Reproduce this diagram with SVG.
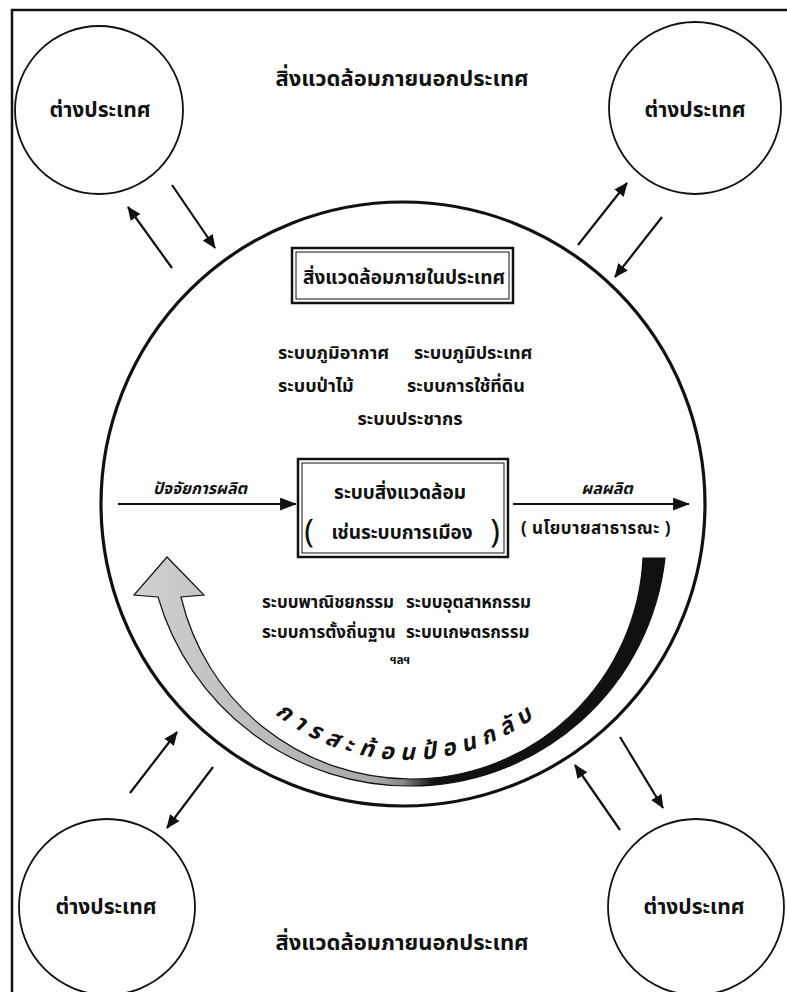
<svg xmlns="http://www.w3.org/2000/svg" width="787" height="992" viewBox="0 0 787 992">
<defs>
<style>
text{font-family:"Noto Sans Thai","Noto Sans Thai UI","Loma","Garuda","Tlwg Typo","Norasi","DejaVu Sans",sans-serif;fill:#111;text-anchor:middle;font-weight:bold}
.node{fill:#fff;stroke:#111;stroke-width:1.8}
.main{fill:#fff;stroke:#111;stroke-width:3.2}
.frame{fill:none;stroke:#111;stroke-width:2.5}
.conn{stroke:#111;stroke-width:2.2;fill:none}
.boxo{fill:#fff;stroke:#111;stroke-width:2.5}
.boxi{fill:none;stroke:#111;stroke-width:1}
.lbl{font-size:18px}
.fn{font-size:21px}
.big{font-size:22px}
.it{font-style:italic}
.st{text-anchor:start}
</style>
<marker id="ah" viewBox="0 0 14 12" refX="13" refY="6" markerWidth="14" markerHeight="12" markerUnits="userSpaceOnUse" orient="auto">
<path d="M0,0 L14,6 L0,12 Z" fill="#111"/>
</marker>
<marker id="ah2" viewBox="0 0 16 12" refX="15" refY="6" markerWidth="17" markerHeight="13" markerUnits="userSpaceOnUse" orient="auto">
<path d="M0,0 L16,6 L0,12 Z" fill="#111"/>
</marker>
<linearGradient id="fb" gradientUnits="userSpaceOnUse" x1="140" y1="0" x2="665" y2="0">
<stop offset="0" stop-color="#d0d0d0"/>
<stop offset="0.45" stop-color="#a8a8a8"/>
<stop offset="0.5" stop-color="#888"/>
<stop offset="0.56" stop-color="#111"/>
<stop offset="1" stop-color="#111"/>
</linearGradient>
<path id="fbtext" d="M207.8 620.5 A212 212 0 0 0 606.2 620.5"/>
</defs>
<rect width="787" height="992" fill="#fff"/>
<path class="frame" d="M12 992 V10 H787"/>

<text class="big" x="402" y="86">สิ่งแวดล้อมภายนอกประเทศ</text>
<text class="big" x="402" y="950">สิ่งแวดล้อมภายนอกประเทศ</text>

<g id="main-circle">
<circle class="main" cx="403" cy="504" r="302"/>
</g>

<g id="foreign-tl"><circle class="node" cx="99" cy="110" r="84"/><text class="fn" x="100" y="117">ต่างประเทศ</text></g>
<g id="foreign-tr"><circle class="node" cx="695" cy="108" r="86"/><text class="fn" x="695" y="117">ต่างประเทศ</text></g>
<g id="foreign-bl"><circle class="node" cx="107" cy="907" r="88"/><text class="fn" x="106" y="914">ต่างประเทศ</text></g>
<g id="foreign-br"><circle class="node" cx="696" cy="907" r="88"/><text class="fn" x="694" y="914">ต่างประเทศ</text></g>

<g id="domestic-box">
<rect class="boxo" x="292" y="248" width="221" height="55"/>
<rect class="boxi" x="296" y="252" width="213" height="47"/>
<text style="font-size:19px" x="404" y="284">สิ่งแวดล้อมภายในประเทศ</text>
</g>

<g id="systems-top">
<text class="lbl st" x="278" y="359">ระบบภูมิอากาศ</text>
<text class="lbl st" x="414" y="359">ระบบภูมิประเทศ</text>
<text class="lbl st" x="278" y="392">ระบบป่าไม้</text>
<text class="lbl st" x="407" y="392">ระบบการใช้ที่ดิน</text>
<text class="lbl" x="410" y="425">ระบบประชากร</text>
</g>

<g id="env-system-box">
<rect class="boxo" x="298" y="459" width="210" height="98"/>
<rect class="boxi" x="302" y="463" width="202" height="90"/>
<text style="font-size:19px" x="400" y="499">ระบบสิ่งแวดล้อม</text>
<text style="font-size:19px" x="402" y="539">เช่นระบบการเมือง</text>
<text style="font-size:32px;font-weight:normal" x="309" y="543">(</text>
<text style="font-size:32px;font-weight:normal" x="495" y="543">)</text>
</g>

<g id="systems-bottom">
<text class="st" style="font-size:17px" x="262" y="608">ระบบพาณิชยกรรม</text>
<text class="st" style="font-size:17px" x="406" y="608">ระบบอุตสาหกรรม</text>
<text class="st" style="font-size:17px" x="262" y="638">ระบบการตั้งถิ่นฐาน</text>
<text class="st" style="font-size:17px" x="406" y="638">ระบบเกษตรกรรม</text>
<text style="font-size:12px" x="400" y="664">ฯลฯ</text>
</g>

<g id="feedback">
<path d="M665 558 A256 256 0 0 1 410 786 A262 262 0 0 1 158 597 L134 595 L167 557 L204 595 L181 597 A236 236 0 0 0 410 779 A232 232 0 0 0 643 558 Z" fill="url(#fb)" stroke="#111" stroke-width="1.2"/>
<text class="it" style="font-size:23px;letter-spacing:7px"><textPath href="#fbtext" startOffset="50%">การสะท้อนป้อนกลับ</textPath></text>
</g>

<g id="connectors">
<line class="conn" x1="118" y1="504" x2="296" y2="504" marker-end="url(#ah2)"/>
<line class="conn" x1="513" y1="504" x2="689" y2="504" marker-end="url(#ah2)"/>
<line class="conn" x1="172" y1="268" x2="128" y2="207" marker-end="url(#ah)"/>
<line class="conn" x1="172" y1="185" x2="215" y2="248" marker-end="url(#ah)"/>
<line class="conn" x1="578" y1="245" x2="627" y2="183" marker-end="url(#ah)"/>
<line class="conn" x1="662" y1="217" x2="615" y2="277" marker-end="url(#ah)"/>
<line class="conn" x1="130" y1="793" x2="177" y2="732" marker-end="url(#ah)"/>
<line class="conn" x1="213" y1="767" x2="167" y2="828" marker-end="url(#ah)"/>
<line class="conn" x1="620" y1="830" x2="575" y2="765" marker-end="url(#ah)"/>
<line class="conn" x1="620" y1="737" x2="663" y2="808" marker-end="url(#ah)"/>
</g>

<g id="io-labels">
<text class="it" style="font-size:16px" x="200" y="494">ปัจจัยการผลิต</text>
<text class="it" style="font-size:16px" x="607" y="494">ผลผลิต</text>
<text style="font-size:17px;letter-spacing:0.5px" x="596" y="534">( นโยบายสาธารณะ )</text>
</g>
</svg>
